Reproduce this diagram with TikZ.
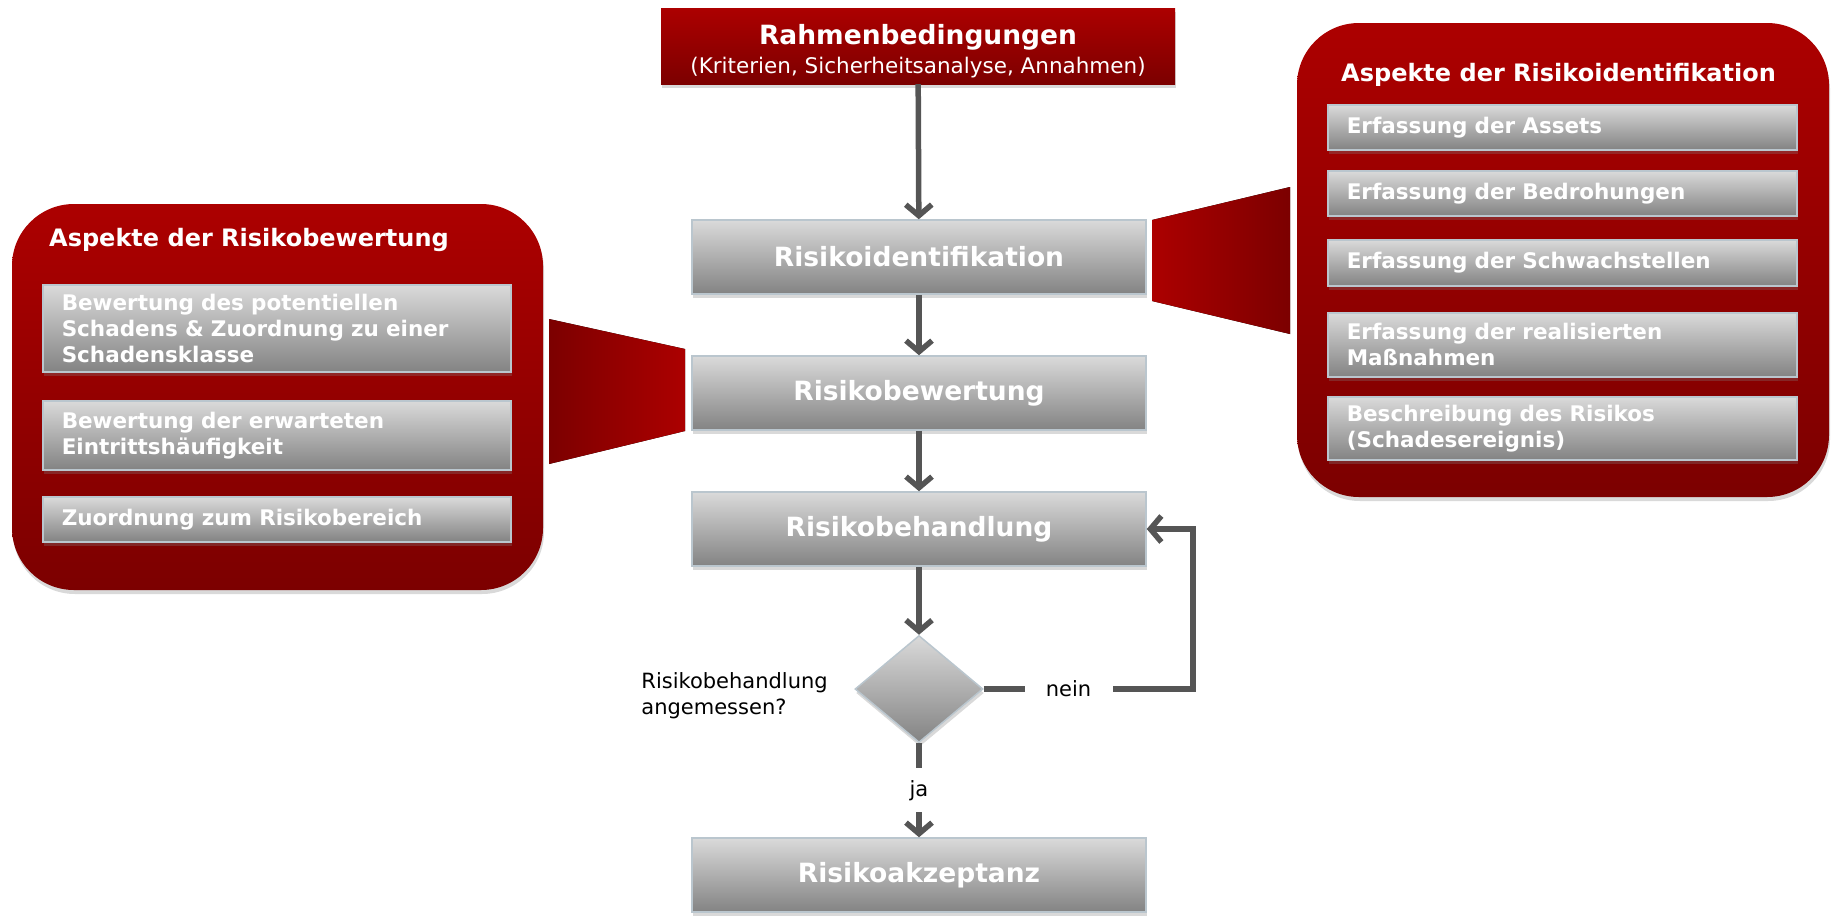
\documentclass[tikz,border=0pt]{standalone}
\usepackage{fontspec}
\setmainfont{DejaVu Sans}
\usepackage{tikz}
\usetikzlibrary{arrows,arrows.meta,shadows,shapes.geometric}

\definecolor{hellrot}{HTML}{AC0000}
\definecolor{dunkelrot}{HTML}{7C0000}
\definecolor{hellgrau}{HTML}{DADADA}
\definecolor{dunkelgrau}{HTML}{838383}
\definecolor{kantengrau}{HTML}{BAC6CE}
\definecolor{pfeilgrau}{HTML}{555555}

\begin{document}
\begin{tikzpicture}[x=1pt,y=-1pt,
	> = {Straight Barb[length=11pt,width=26pt]}, % arrow head style
	pfeil/.style={->,draw=pfeilgrau,line width=5.5pt},
	schatten/.style={drop shadow={shadow xshift=1pt,shadow yshift=-4pt,opacity=.3}},
	schritt/.style={rectangle,draw=kantengrau,line width=1.5pt,top color=hellgrau,bottom color=dunkelgrau,
		minimum width=454pt,minimum height=74pt,text=white,font=\fontsize{26.5}{31}\selectfont\bfseries,schatten},
	rotbox/.style={rectangle,top color=hellrot,bottom color=dunkelrot,schatten},
	titel/.style={anchor=west,text=white,inner sep=0pt,font=\fontsize{24}{28}\selectfont\bfseries},
	punkt/.style={rectangle,draw=kantengrau,line width=1.5pt,top color=hellgrau,bottom color=dunkelgrau,
		anchor=north west,inner xsep=19pt,inner ysep=2pt,align=left,text=white,
		font=\fontsize{21.5}{26}\selectfont\bfseries,schatten},
	marke/.style={fill=white,text=black,font=\fontsize{21}{26}\selectfont}
	]
	\useasboundingbox (0,0) rectangle (1831,916);

	% Ablauf in der Mitte
	\node[rotbox,minimum width=514pt,minimum height=76pt,text=white,align=center] (rahmen) at (918,46)
		{\rule{0pt}{30pt}{\fontsize{26.5}{30}\selectfont\bfseries Rahmenbedingungen}\\[6pt]{\fontsize{21.5}{24}\selectfont (Kriterien, Sicherheitsanalyse, Annahmen)}};
	\node[schritt] (ident) at (919,257) {Risikoidentifikation};
	\node[schritt] (bewert) at (919,393) {Risikobewertung};
	\node[schritt] (behand) at (919,529) {Risikobehandlung};
	\node[diamond,draw=kantengrau,line width=1.5pt,top color=hellgrau,bottom color=dunkelgrau,
		minimum width=128pt,minimum height=107pt,inner sep=0pt,schatten] (entsch) at (919,689) {};
	\node[schritt] (akzept) at (919,875) {Risikoakzeptanz};
	\node[anchor=east,align=left,font=\fontsize{21}{26}\selectfont] (frage) at ([xshift=-23pt,yshift=-7pt]entsch.west)
		{Risikobehandlung\\angemessen?};
	\coordinate (rueck) at (1193,689);

	% linke Box
	\fill[left color=dunkelrot,right color=hellrot] (549,319) -- (685,349) -- (685,431) -- (549,464) -- cycle;
	\node[rotbox,rounded corners=62pt,minimum width=531pt,minimum height=386pt] (links) at (277.5,397) {};
	\node[titel] (ltitel) at (49,240) {Aspekte der Risikobewertung};
	\node[punkt,text width=430pt,minimum height=87pt] (l1) at (42,284)
		{Bewertung des potentiellen\\Schadens \& Zuordnung zu einer\\Schadensklasse};
	\node[punkt,text width=430pt,minimum height=69pt] (l2) at (42,400)
		{Bewertung der erwarteten\\Eintrittshäufigkeit};
	\node[punkt,text width=430pt,minimum height=45pt] (l3) at (42,496) {Zuordnung zum Risikobereich};

	% rechte Box
	\fill[left color=hellrot,right color=dunkelrot] (1152,220) -- (1290,187) -- (1290,334) -- (1152,301) -- cycle;
	\node[rotbox,rounded corners=62pt,minimum width=532pt,minimum height=474pt] (rechts) at (1563,260) {};
	\node[titel] (rtitel) at (1341,75) {Aspekte der Risikoidentifikation};
	\node[punkt,text width=431pt,minimum height=45pt] (r1) at (1327,104) {Erfassung der Assets};
	\node[punkt,text width=431pt,minimum height=45pt] (r2) at (1327,170) {Erfassung der Bedrohungen};
	\node[punkt,text width=431pt,minimum height=46pt] (r3) at (1327,239) {Erfassung der Schwachstellen};
	\node[punkt,text width=431pt,minimum height=64pt] (r4) at (1327,312)
		{Erfassung der realisierten\\Maßnahmen};
	\node[punkt,text width=431pt,minimum height=63pt] (r5) at (1327,396)
		{Beschreibung des Risikos\\(Schadesereignis)};

	% Pfeile
	\draw[pfeil] (rahmen) -- (ident);
	\draw[pfeil] (ident) -- (bewert);
	\draw[pfeil] (bewert) -- (behand);
	\draw[pfeil] (behand) -- (entsch);
	\draw[pfeil] (entsch) -- node[marke,minimum height=44pt,inner xsep=0pt] {ja} (akzept);
	\draw[pfeil] (entsch) -- node[marke,pos=.405,minimum width=88pt,inner ysep=0pt] {nein} (rueck) |- (behand);

\end{tikzpicture}
\end{document}
